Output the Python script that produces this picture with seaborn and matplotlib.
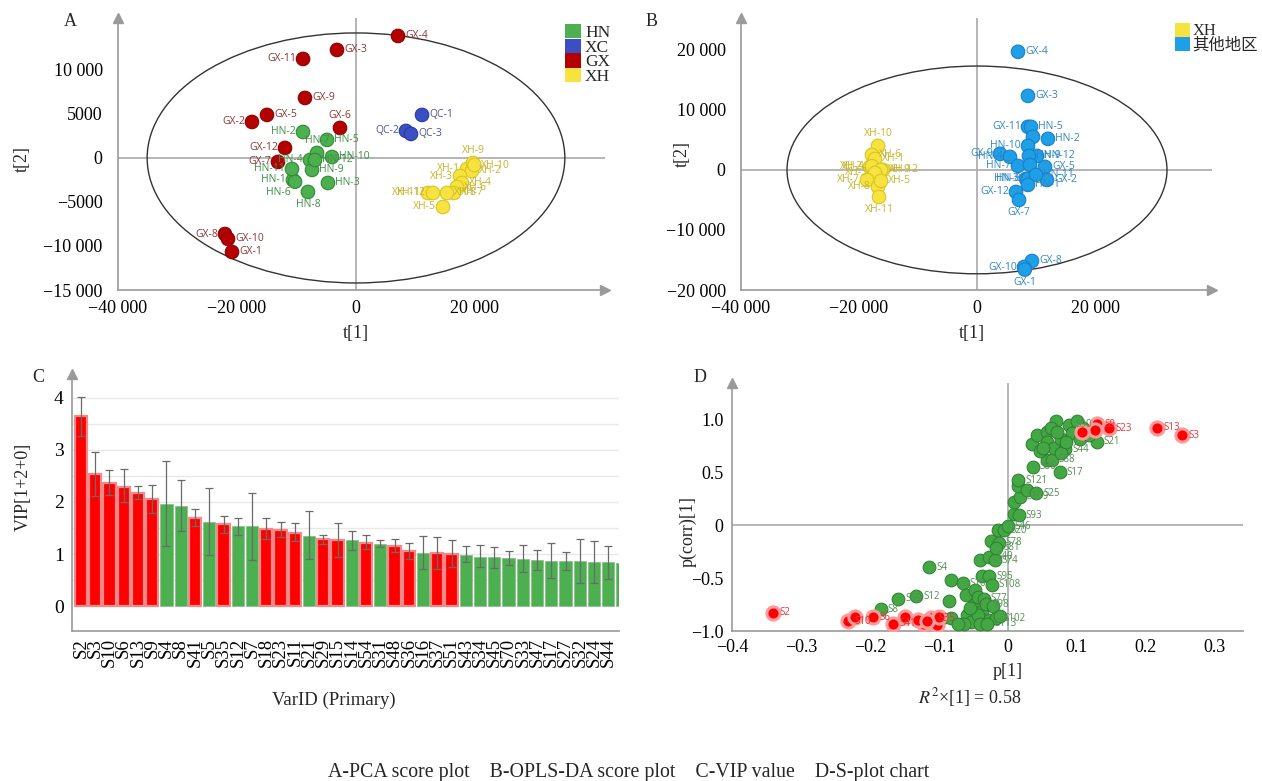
import numpy as np
import pandas as pd
import matplotlib
matplotlib.use("Agg")
import matplotlib.pyplot as plt
import seaborn as sns
from matplotlib.patches import Ellipse, Patch
from matplotlib.ticker import MultipleLocator, FixedLocator, FuncFormatter

# ---------------- A: PCA score plot ----------------
gx_names = ["GX-1", "GX-2", "GX-3", "GX-4", "GX-5", "GX-6", "GX-7", "GX-8", "GX-9", "GX-10", "GX-11", "GX-12"]
gx_pca_x = [-20840, -17480, -3190, 7060, -14960, -2690, -13110, -22020, -8570, -21510, -8900, -11930]
gx_pca_y = [-10680, 4090, 12270, 13860, 4890, 3410, -450, -8640, 6820, -9200, 11250, 1140]

hn_names = ["HN-1", "HN-2", "HN-3", "HN-4", "HN-5", "HN-6", "HN-7", "HN-8", "HN-9", "HN-10", "HN-11", "HN-12"]
hn_pca_x = [-10590, -8910, -4710, -7730, -4870, -10250, -6550, -8070, -7390, -4030, -10760, -6890]
hn_pca_y = [-2500, 2950, -2840, -230, 2050, -2700, 570, -3860, -1360, 110, -1250, -230]

qc_names = ["QC-1", "QC-2", "QC-3"]
qc_pca_x = [11100, 8400, 9240]
qc_pca_y = [4890, 3070, 2730]

xh_names = ["XH-1", "XH-2", "XH-3", "XH-4", "XH-5", "XH-6", "XH-7", "XH-8", "XH-9", "XH-10", "XH-11", "XH-12"]
xh_pca_x = [18660, 19500, 17480, 17810, 14620, 16970, 16470, 15290, 19660, 19900, 12100, 12940]
xh_pca_y = [-1250, -1480, -2050, -2840, -5570, -3300, -3980, -3980, -570, -800, -3980, -3980]

pca_t2_a, pca_t2_b = 35100, 14200

# ---------------- B: OPLS-DA score plot ----------------
oth_names = ["GX-4", "GX-3", "GX-11", "HN-5", "GX-6", "HN-2", "HN-10", "GX-9", "HN-4", "HN-7", "HN-12", "HN-9",
             "GX-5", "HN-6", "HN-3", "HN-8", "GX-2", "HN-11", "HN-1", "GX-12", "GX-7", "GX-8", "GX-10", "GX-1"]
oth_x = [6950, 8640, 8640, 9150, 9490, 12030, 8640, 3900, 5590, 6950, 10170, 8810,
         11520, 8980, 8300, 8640, 11860, 10000, 8640, 6610, 7120, 9320, 7970, 8100]
oth_y = [19670, 12330, 7170, 7170, 5500, 5170, 4000, 2670, 2170, 670, 2330, 2330,
         500, 830, -1500, -1500, -1670, -830, -2500, -3670, -5000, -15170, -16170, -16600]

xhb_names = ["XH-10", "XH-6", "XH-1", "XH-2", "XH-4", "XH-12", "XH-9", "XH-3", "XH-7", "XH-8", "XH-5", "XH-11"]
xhb_x = [-16780, -17800, -17290, -18140, -17800, -15930, -16270, -17290, -18640, -16780, -16270, -16610]
xhb_y = [4000, 2500, 1830, 500, 600, 0, 0, -500, -1670, -2830, -1830, -4500]

opls_t2_a, opls_t2_b = 32200, 17300

# ---------------- C: VIP ----------------
vip_names = ["S2", "S3", "S10", "S6", "S13", "S9", "S4", "S8", "S41", "S5", "S35", "S12", "S7",
             "S18", "S23", "S11", "S21", "S29", "S15", "S14", "S54", "S31", "S48", "S36", "S16",
             "S37", "S51", "S43", "S34", "S45", "S70", "S33", "S47", "S17", "S27", "S32", "S24", "S44", ""]
vip_vals = [3.65, 2.53, 2.37, 2.29, 2.18, 2.05, 1.97, 1.93, 1.70, 1.61, 1.57, 1.54, 1.53,
            1.48, 1.47, 1.41, 1.35, 1.28, 1.26, 1.26, 1.21, 1.19, 1.15, 1.05, 1.02,
            1.01, 1.00, 0.99, 0.95, 0.94, 0.92, 0.90, 0.88, 0.87, 0.86, 0.86, 0.85, 0.84, 0.83]
vip_hi = [4.02, 2.97, 2.61, 2.63, 2.30, 2.32, 2.79, 2.43, 1.87, 2.26, 1.74, 1.69, 2.17,
          1.70, 1.61, 1.59, 1.82, 1.37, 1.60, 1.44, 1.36, 1.26, 1.29, 1.21, 1.35,
          1.32, 1.26, 1.15, 1.18, 1.14, 1.05, 1.17, 1.08, 1.21, 1.03, 1.28, 1.25, 1.16]
vip_lo = [3.26, 2.11, 2.13, 2.00, 2.06, 1.79, 1.16, 1.44, 1.53, 0.98, 1.40, 1.37, 0.88,
          1.29, 1.32, 1.25, 0.90, 1.19, 0.94, 1.08, 1.10, 1.13, 1.03, 0.90, 0.71,
          0.72, 0.75, 0.84, 0.75, 0.74, 0.79, 0.65, 0.70, 0.53, 0.69, 0.45, 0.45, 0.52]
vip_sig = ["red"] * 6 + ["green", "green", "red", "green", "red", "green", "green",
           "red", "red", "red", "green", "red", "red", "green", "red", "green", "red", "red", "green",
           "red", "red"] + ["green"] * 12

# ---------------- D: S-plot ----------------
sp_green_x = [-0.184, -0.159, -0.133, -0.114, -0.082, -0.065, -0.085, -0.061, -0.048, -0.038, -0.027, -0.023,
              -0.048, -0.038, -0.059, -0.053, -0.027, -0.017, -0.064, -0.095, -0.082, -0.040, -0.027, -0.019,
              -0.025, -0.013, -0.014, -0.006, 0.000, -0.017, -0.044, -0.035, -0.043, -0.032, -0.022,
              -0.072, -0.040, -0.030, -0.012, -0.055,
              0.009, 0.016, 0.009, 0.017, 0.015, 0.015, 0.028, 0.041, 0.036, 0.075, 0.057, 0.064,
              0.035, 0.043, 0.057, 0.070, 0.062, 0.088, 0.046, 0.057, 0.067, 0.077, 0.083, 0.093,
              0.104, 0.109, 0.101, 0.129, 0.051, 0.077, 0.072, 0.117, 0.085]
sp_green_y = [-0.797, -0.698, -0.674, -0.399, -0.515, -0.548, -0.721, -0.664, -0.615, -0.482, -0.482, -0.565,
              -0.748, -0.814, -0.847, -0.914, -0.897, -0.880, -0.930, -0.880, -0.880, -0.332, -0.299, -0.332,
              -0.150, -0.166, -0.050, -0.050, -0.010, -0.216, -0.681, -0.698, -0.847, -0.748, -0.764,
              -0.930, -0.930, -0.930, -0.860, -0.780,
              0.100, 0.090, 0.216, 0.266, 0.365, 0.422, 0.332, 0.299, 0.548, 0.498, 0.615, 0.615,
              0.764, 0.847, 0.880, 0.980, 0.920, 0.947, 0.698, 0.781, 0.731, 0.814, 0.714, 0.864,
              0.814, 0.914, 0.980, 0.787, 0.731, 0.681, 0.880, 0.847, 0.781]
sp_green_names = ["S8", "S59", "S12", "S4", "", "S16", "", "", "", "", "S95", "S108",
                  "", "", "", "", "", "S102", "", "", "", "", "S40", "S74",
                  "", "S78", "", "S20", "S46", "S81", "", "S77", "", "S98", "",
                  "", "", "S113", "", "",
                  "", "S93", "", "S109", "", "S121", "", "S25", "S86", "S17", "", "S88",
                  "", "", "", "", "", "S90", "", "", "", "", "S44", "",
                  "", "", "", "S21", "", "", "", "", ""]

sp_red_x = [-0.341, -0.232, -0.222, -0.196, -0.167, -0.149, -0.122, -0.111, -0.103, -0.100, -0.130, -0.117,
            0.216, 0.252, 0.130, 0.146, 0.127, 0.108]
sp_red_y = [-0.830, -0.907, -0.864, -0.870, -0.930, -0.870, -0.930, -0.880, -0.940, -0.864, -0.900, -0.910,
            0.920, 0.847, 0.953, 0.914, 0.897, 0.880]
sp_red_names = ["S2", "S10", "", "S6", "S41", "", "", "S35", "", "", "", "",
                "S13", "S3", "S9", "S23", "", ""]

# ---------------- style ----------------
sns.set_style("white")
plt.rcParams["font.family"] = ["Liberation Serif", "Noto Sans CJK SC", "DejaVu Sans"]
plt.rcParams["mathtext.fontset"] = "stix"
plt.rcParams["axes.unicode_minus"] = True

SPINE = "#9a9a9a"
ZERO = "#b0b0b0"


def big_num(v, pos):
    n = int(round(v))
    s = str(abs(n))
    if abs(n) >= 10000:
        s = s[:-3] + " " + s[-3:]
    return ("\u2212" if n < 0 else "") + s


def small_num(v, pos):
    if abs(v) < 1e-9:
        return "0"
    return ("\u2212" if v < 0 else "") + f"{abs(v):.1f}"


def style_axes(ax, arrow_right=True):
    sns.despine(ax=ax)
    for s in ["left", "bottom"]:
        ax.spines[s].set_color(SPINE)
        ax.spines[s].set_linewidth(1.2)
    ax.tick_params(which="both", colors=SPINE, labelcolor="black", direction="out", labelsize=13)
    ax.tick_params(which="major", length=4)
    ax.tick_params(which="minor", length=2.5)
    ax.plot(0, 1, "^", ms=7, color=SPINE, transform=ax.transAxes, clip_on=False)
    if arrow_right:
        ax.plot(1, 0, ">", ms=7, color=SPINE, transform=ax.transAxes, clip_on=False)


OFFS = {"r": ((5, 0), "left", "center"), "l": ((-5, 0), "right", "center"),
        "u": ((0, 5), "center", "bottom"), "d": ((0, -5), "center", "top"),
        "dl": ((-3, -4), "right", "top")}


def put_labels(ax, xs, ys, names, sides, color, size=7.5):
    for x, y, n, s in zip(xs, ys, names, sides):
        if not n or not s:
            continue
        off, ha, va = OFFS[s]
        ax.annotate(n, (x, y), xytext=off, textcoords="offset points", ha=ha, va=va,
                    fontsize=size, color=color, family="Open Sans", zorder=5)


fig = plt.figure(figsize=(12.62, 7.81), dpi=100)

# ---------------- panel A ----------------
axA = fig.add_axes([118 / 1262, 1 - 290 / 781, 487 / 1262, 272 / 781])
axA.axhline(0, color=ZERO, lw=1.3, zorder=1)
axA.axvline(0, color=ZERO, lw=1.3, zorder=1)
axA.add_patch(Ellipse((0, 0), 2 * pca_t2_a, 2 * pca_t2_b, fill=False, ec="#333333", lw=1.0, zorder=2))

dfA = pd.DataFrame({
    "x": gx_pca_x + hn_pca_x + qc_pca_x + xh_pca_x,
    "y": gx_pca_y + hn_pca_y + qc_pca_y + xh_pca_y,
    "group": ["GX"] * 12 + ["HN"] * 12 + ["QC"] * 3 + ["XH"] * 12,
})
a_fill = {"GX": "#b50000", "HN": "#4caf50", "QC": "#3b4fc4", "XH": "#f7e340"}
a_edge = {"GX": "#8a0000", "HN": "#2f8a35", "QC": "#2a3a9a", "XH": "#d9c420"}
sns.scatterplot(data=dfA, x="x", y="y", hue="group", palette=a_fill,
                edgecolor=[a_edge[g] for g in dfA["group"]], linewidth=0.8,
                s=95, legend=False, ax=axA, zorder=3)

gx_side = ["r", "l", "r", "r", "r", "u", "l", "l", "r", "r", "l", "l"]
hn_side = ["l", "l", "r", "l", "r", "dl", "u", "d", "r", "r", "l", "r"]
qc_side = ["r", "l", "r"]
xh_side = ["l", "r", "l", "r", "l", "r", "r", "r", "u", "r", "l", "l"]
put_labels(axA, gx_pca_x, gx_pca_y, gx_names, gx_side, "#8e3535")
put_labels(axA, hn_pca_x, hn_pca_y, hn_names, hn_side, "#3f8f45")
put_labels(axA, qc_pca_x, qc_pca_y, qc_names, qc_side, "#4a50a0")
put_labels(axA, xh_pca_x, xh_pca_y, xh_names, xh_side, "#c8b42a")

axA.set_xlim(-40000, 41850)
axA.set_ylim(-15000, 15900)
axA.xaxis.set_major_locator(FixedLocator([-40000, -20000, 0, 20000]))
axA.xaxis.set_minor_locator(MultipleLocator(2000))
axA.yaxis.set_major_locator(FixedLocator([-15000, -10000, -5000, 0, 5000, 10000]))
axA.yaxis.set_minor_locator(MultipleLocator(1000))
axA.xaxis.set_major_formatter(FuncFormatter(big_num))
axA.yaxis.set_major_formatter(FuncFormatter(big_num))
style_axes(axA)
axA.tick_params(axis="y", pad=7)
axA.set_xlabel("t[1]", fontsize=13)
axA.set_ylabel("t[2]", fontsize=13)
axA.xaxis.set_label_coords(0.489, -0.13)
axA.yaxis.set_label_coords(-0.18, 0.48)

legA = [Patch(fc=a_fill["HN"], ec="none", label="HN"), Patch(fc=a_fill["QC"], ec="none", label="XC"),
        Patch(fc=a_fill["GX"], ec="none", label="GX"), Patch(fc=a_fill["XH"], ec="none", label="XH")]
fig.legend(handles=legA, loc="upper left", bbox_to_anchor=(565 / 1262, 1 - 24 / 781), frameon=False,
           fontsize=12.5, handlelength=0.9, handleheight=0.9, handletextpad=0.25,
           labelspacing=-0.15, borderpad=0, borderaxespad=0)

# ---------------- panel B ----------------
axB = fig.add_axes([741 / 1262, 1 - 290 / 781, 471 / 1262, 272 / 781])
axB.axhline(0, color=ZERO, lw=1.3, zorder=1)
axB.axvline(0, color=ZERO, lw=1.3, zorder=1)
axB.add_patch(Ellipse((0, 0), 2 * opls_t2_a, 2 * opls_t2_b, fill=False, ec="#333333", lw=1.0, zorder=2))

dfB = pd.DataFrame({
    "x": xhb_x + oth_x,
    "y": xhb_y + oth_y,
    "group": ["XH"] * len(xhb_x) + ["其他地区"] * len(oth_x),
})
b_fill = {"XH": "#f7e340", "其他地区": "#1e9fe8"}
b_edge = {"XH": "#d9c420", "其他地区": "#1a7fc4"}
sns.scatterplot(data=dfB, x="x", y="y", hue="group", palette=b_fill,
                edgecolor=[b_edge[g] for g in dfB["group"]], linewidth=0.8,
                s=95, legend=False, ax=axB, zorder=3)

oth_side = ["r", "r", "l", "r", "", "r", "l", "l", "l", "l", "r", "r",
            "r", "", "l", "l", "r", "r", "r", "l", "d", "r", "l", "d"]
xhb_side = ["u", "r", "r", "l", "l", "r", "r", "l", "l", "l", "r", "d"]
put_labels(axB, oth_x, oth_y, oth_names, oth_side, "#2f86c4")
put_labels(axB, xhb_x, xhb_y, xhb_names, xhb_side, "#c8b42a")

axB.set_xlim(-40000, 39830)
axB.set_ylim(-20000, 25300)
axB.xaxis.set_major_locator(FixedLocator([-40000, -20000, 0, 20000]))
axB.xaxis.set_minor_locator(MultipleLocator(2000))
axB.yaxis.set_major_locator(FixedLocator([-20000, -10000, 0, 10000, 20000]))
axB.yaxis.set_minor_locator(MultipleLocator(2000))
axB.xaxis.set_major_formatter(FuncFormatter(big_num))
axB.yaxis.set_major_formatter(FuncFormatter(big_num))
style_axes(axB)
axB.tick_params(axis="y", pad=7)
axB.set_xlabel("t[1]", fontsize=13)
axB.set_ylabel("t[2]", fontsize=13)
axB.xaxis.set_label_coords(0.49, -0.13)
axB.yaxis.set_label_coords(-0.107, 0.5)

legB = [Patch(fc=b_fill["XH"], ec="none", label="XH"), Patch(fc=b_fill["其他地区"], ec="none", label="其他地区")]
fig.legend(handles=legB, loc="upper left", bbox_to_anchor=(1175 / 1262, 1 - 23 / 781), frameon=False,
           fontsize=11.8, handlelength=0.9, handleheight=0.9, handletextpad=0.15,
           labelspacing=-0.15, borderpad=0, borderaxespad=0)

# ---------------- panel C ----------------
axC = fig.add_axes([72 / 1262, 1 - 631 / 781, 547 / 1262, 257 / 781])
for g in np.arange(0.5, 4.01, 0.5):
    axC.axhline(g, color="#e8e8e8", lw=1.0, zorder=0)
sns.barplot(x=vip_names, y=vip_vals, hue=vip_sig, palette={"red": "#ff0000", "green": "#4caf50"},
            dodge=False, saturation=1, width=0.86, legend=False, ax=axC, zorder=2)
for p in axC.patches:
    r, g, b, a = p.get_facecolor()
    if r > 0.9:
        p.set_edgecolor("#f08a8a")
        p.set_linewidth(1.6)
    else:
        p.set_edgecolor("#8fbf8f")
        p.set_linewidth(0.6)
nerr = len(vip_hi)
axC.errorbar(np.arange(nerr), vip_vals[:nerr],
             yerr=[np.array(vip_vals[:nerr]) - np.array(vip_lo), np.array(vip_hi) - np.array(vip_vals[:nerr])],
             fmt="none", ecolor="#6a6a6a", elinewidth=0.9, capsize=3, capthick=0.9, zorder=4)
axC.set_xlim(-0.63, 37.75)
axC.set_ylim(-0.48, 4.46)
axC.yaxis.set_major_locator(FixedLocator([0, 1, 2, 3, 4]))
axC.yaxis.set_minor_locator(MultipleLocator(0.25))
style_axes(axC, arrow_right=False)
axC.tick_params(axis="y", labelsize=14, pad=2)
axC.tick_params(axis="x", rotation=90, labelsize=13.5, pad=2, length=3)
axC.set_xlabel("VarID (Primary)", fontsize=13.5)
axC.set_ylabel("VIP[1+2+0]", fontsize=13)
axC.xaxis.set_label_coords(0.479, -0.235)
axC.yaxis.set_label_coords(-0.073, 0.56)

# ---------------- panel D ----------------
axD = fig.add_axes([732 / 1262, 1 - 631 / 781, 511 / 1262, 248 / 781])
axD.axhline(0, color=ZERO, lw=1.3, zorder=1)
axD.axvline(0, color=ZERO, lw=1.3, zorder=1)
sns.scatterplot(x=sp_green_x, y=sp_green_y, color="#43a843", edgecolor="#2e7d32",
                linewidth=0.7, s=85, ax=axD, zorder=3)
sns.scatterplot(x=sp_red_x, y=sp_red_y, color="#ff0000", edgecolor="#ff9a9a",
                linewidth=2.2, s=90, ax=axD, zorder=4)
put_labels(axD, sp_green_x, sp_green_y, sp_green_names, ["r"] * len(sp_green_x), "#4f8f4f", size=7)
put_labels(axD, sp_red_x, sp_red_y, sp_red_names, ["r"] * len(sp_red_x), "#e03a3a", size=7)
axD.set_xlim(-0.4, 0.341)
axD.set_ylim(-1.0, 1.34)
axD.xaxis.set_major_locator(FixedLocator([-0.4, -0.3, -0.2, -0.1, 0, 0.1, 0.2, 0.3]))
axD.xaxis.set_minor_locator(MultipleLocator(0.05))
axD.yaxis.set_major_locator(FixedLocator([-1.0, -0.5, 0, 0.5, 1.0]))
axD.yaxis.set_minor_locator(MultipleLocator(0.25))
axD.xaxis.set_major_formatter(FuncFormatter(small_num))
axD.yaxis.set_major_formatter(FuncFormatter(small_num))
style_axes(axD, arrow_right=False)
axD.tick_params(axis="y", pad=2)
axD.tick_params(axis="x", pad=2)
axD.set_xlabel("p[1]", fontsize=13)
axD.set_ylabel("p(corr)[1]", fontsize=13)
axD.xaxis.set_label_coords(0.54, -0.13)
axD.yaxis.set_label_coords(-0.07, 0.40)
fig.text(970 / 1262, 1 - 697 / 781, r"$R^2$×[1] = 0.58", ha="center", va="center", fontsize=13)

# ---------------- panel letters and caption ----------------
for lab, px, py in [("A", 70, 22), ("B", 652, 22), ("C", 38, 378), ("D", 700, 378)]:
    fig.text(px / 1262, 1 - py / 781, lab, ha="center", va="center", fontsize=13)
fig.text(629 / 1262, 1 - 773 / 781,
         "A-PCA score plot    B-OPLS-DA score plot    C-VIP value    D-S-plot chart",
         ha="center", va="center", fontsize=14.3)

fig.savefig("out.png", dpi=100)
